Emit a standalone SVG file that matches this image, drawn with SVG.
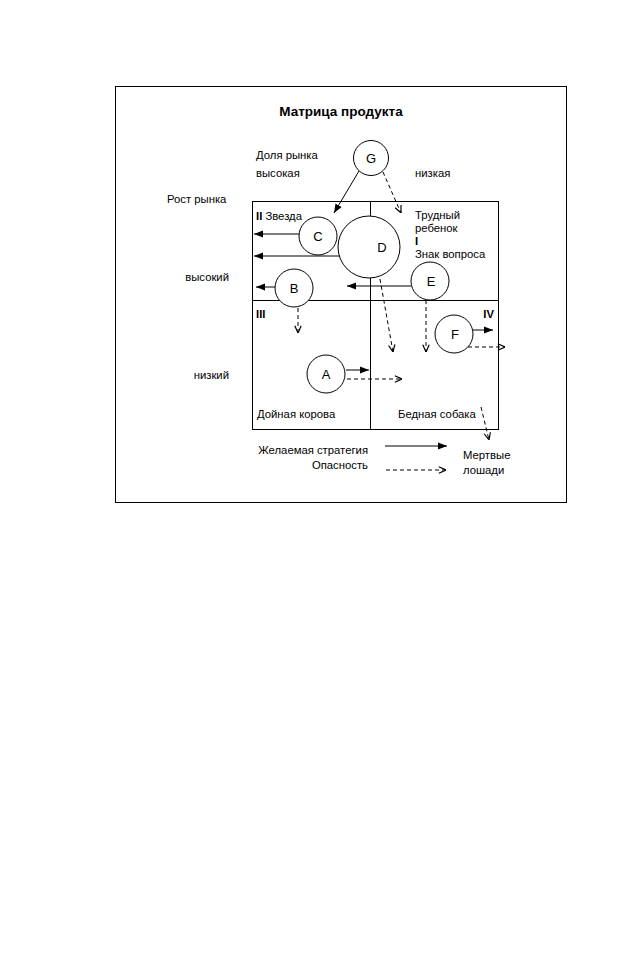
<svg xmlns="http://www.w3.org/2000/svg" width="630" height="957" viewBox="0 0 630 957">
<style>
text{font-family:"Liberation Sans",Arial,sans-serif;font-size:11.3px;fill:#000}
.b{font-weight:bold}
.t{font-weight:bold;font-size:13.5px}
.c{fill:#fff;stroke:#000;stroke-width:1}
.s{stroke:#000;stroke-width:1;fill:none}
.d{stroke:#000;stroke-width:1;fill:none;stroke-dasharray:4,3}
.r{text-anchor:end}
.m{text-anchor:middle;font-size:13px}
</style>
<defs>
<marker id="ah" viewBox="0 0 10 10" refX="10" refY="5" markerWidth="9" markerHeight="9" markerUnits="userSpaceOnUse" orient="auto"><path d="M0,1 L10,5 L0,9 z" fill="#000"/></marker>
<marker id="av" viewBox="0 0 10 10" refX="10" refY="5" markerWidth="8" markerHeight="8" markerUnits="userSpaceOnUse" orient="auto"><path d="M1,1 L10,5 L1,9" fill="none" stroke="#000" stroke-width="1.5"/></marker>
</defs>
<rect x="0" y="0" width="630" height="957" fill="#fff"/>
<rect x="115.5" y="86.5" width="451" height="416" fill="none" stroke="#000" stroke-width="1"/>
<g id="labels">
<text class="t" x="341" y="116" text-anchor="middle">Матрица продукта</text>
<text x="256" y="159">Доля рынка</text>
<text x="256" y="177">высокая</text>
<text x="415" y="177">низкая</text>
<text x="167" y="203">Рост рынка</text>
<text class="r" x="229" y="281">высокий</text>
<text class="r" x="229" y="379">низкий</text>
<text x="256" y="220"><tspan class="b">II</tspan> Звезда</text>
<text x="415" y="219">Трудный</text>
<text x="415" y="232">ребенок</text>
<text class="b" x="415" y="245">I</text>
<text x="415" y="258">Знак вопроса</text>
<text class="b" x="256" y="318">III</text>
<text class="b r" x="494" y="318">IV</text>
<text x="257" y="418">Дойная корова</text>
<text x="398" y="418">Бедная собака</text>
<text class="r" x="368" y="454">Желаемая стратегия</text>
<text class="r" x="368" y="469">Опасность</text>
<text x="463" y="459">Мертвые</text>
<text x="463" y="474">лошади</text>
</g>
<g id="matrix">
<rect x="252.5" y="201.5" width="246" height="228" fill="none" stroke="#000"/>
<line x1="370.5" y1="201" x2="370.5" y2="430" stroke="#000"/>
<line x1="252" y1="300.5" x2="499" y2="300.5" stroke="#000"/>
</g>
<g id="connectors">
<path class="s" d="M359,171 L334,213" marker-end="url(#ah)"/>
<path class="d" d="M383,172 L401,213" marker-end="url(#av)"/>
<path class="s" d="M299,234 L254,234" marker-end="url(#ah)"/>
<path class="s" d="M340,256 L254,256" marker-end="url(#ah)"/>
<path class="s" d="M275,287 L256,287" marker-end="url(#ah)"/>
<path class="s" d="M411,286 L347,286" marker-end="url(#ah)"/>
<path class="d" d="M298,308 L298,333" marker-end="url(#av)"/>
<path class="d" d="M380,279 L393,352" marker-end="url(#av)"/>
<path class="d" d="M426,300 L426,352" marker-end="url(#av)"/>
<path class="s" d="M472,330 L493,330" marker-end="url(#ah)"/>
<path class="d" d="M468,347 L505,347" marker-end="url(#av)"/>
<path class="s" d="M346,370 L369,370" marker-end="url(#ah)"/>
<path class="d" d="M347,379 L402,379" marker-end="url(#av)"/>
<path class="d" d="M481,407 L489,440" marker-end="url(#av)"/>
<path class="s" d="M385,446 L447,446" marker-end="url(#ah)"/>
<path class="d" d="M386,470 L446,470" marker-end="url(#av)"/>
</g>
<g id="G"><circle class="c" cx="371" cy="158" r="17.5"/><text class="m" x="371" y="163">G</text></g>
<g id="D"><circle class="c" cx="369" cy="247" r="31"/><text class="m" x="382" y="252">D</text></g>
<g id="C"><circle class="c" cx="318" cy="236" r="19"/><text class="m" x="318" y="241">C</text></g>
<g id="E"><circle class="c" cx="430" cy="281" r="19"/><text class="m" x="431" y="286">E</text></g>
<g id="B"><circle class="c" cx="294" cy="288" r="19"/><text class="m" x="294" y="293">B</text></g>
<g id="F"><circle class="c" cx="454" cy="334" r="19"/><text class="m" x="455" y="339">F</text></g>
<g id="A"><circle class="c" cx="326" cy="374" r="19"/><text class="m" x="326" y="379">A</text></g>
</svg>
